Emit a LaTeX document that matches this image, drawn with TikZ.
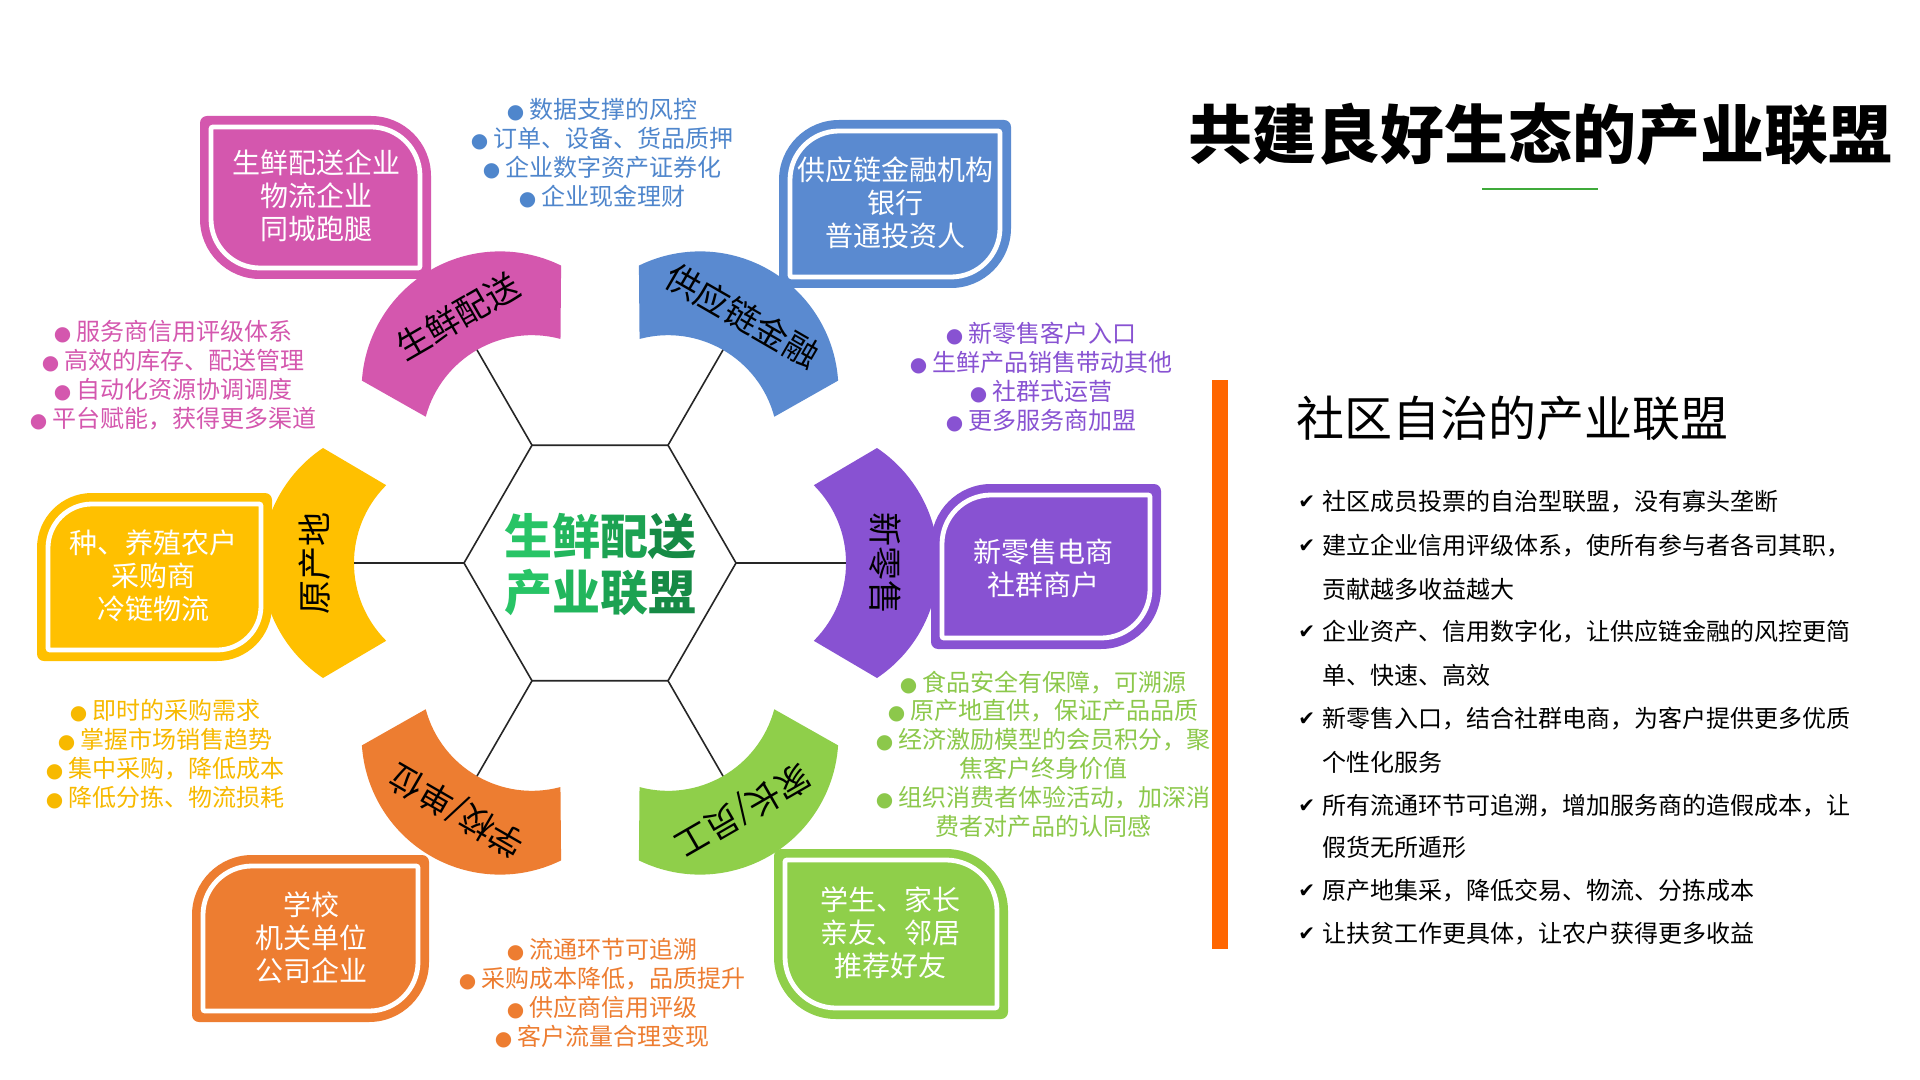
\documentclass[tikz,border=0pt]{standalone}
\usepackage{fontspec}
\setmainfont{Noto Sans CJK SC}
\newfontfamily\dejavu{DejaVu Sans}
\definecolor{cpink}{HTML}{D457AE}
\definecolor{cblue}{HTML}{5A8AD0}
\definecolor{cyellow}{HTML}{FFC000}
\definecolor{cpurple}{HTML}{8852D2}
\definecolor{corange}{HTML}{ED7D31}
\definecolor{cgreen}{HTML}{8FCF4A}
\definecolor{cbar}{HTML}{FF6600}
\definecolor{gA}{HTML}{28C466}
\definecolor{gB}{HTML}{22B65D}
\definecolor{gC}{HTML}{1CA252}
\definecolor{gD}{HTML}{168A45}
\definecolor{cline}{HTML}{3FAA3A}
\definecolor{lblue}{HTML}{4F86CC}
\definecolor{lyellow}{HTML}{F7B900}
\definecolor{lgreen}{HTML}{8CC84B}
% rounded top-left and bottom-right corners
\newcommand\leafA[6]{({#1+#5},{-#2}) -- ({#3-#6},{-#2}) arc[start angle=90,end angle=0,radius=#6] -- ({#3},{-#4+#5}) arc[start angle=0,end angle=-90,radius=#5] -- ({#1+#6},{-#4}) arc[start angle=-90,end angle=-180,radius=#6] -- ({#1},{-#2-#5}) arc[start angle=180,end angle=90,radius=#5] -- cycle}
% rounded top-right and bottom-left corners
\newcommand\leafB[6]{({#1+#6},{-#2}) -- ({#3-#5},{-#2}) arc[start angle=90,end angle=0,radius=#5] -- ({#3},{-#4+#6}) arc[start angle=0,end angle=-90,radius=#6] -- ({#1+#5},{-#4}) arc[start angle=-90,end angle=-180,radius=#5] -- ({#1},{-#2-#6}) arc[start angle=180,end angle=90,radius=#6] -- cycle}
\newcommand\bandshape{(-213.8,77.8) arc[start angle=135,end angle=225,radius=110] -- (-277,-115) arc[start angle=236.2,end angle=123.8,radius=138.4] -- cycle}
\newcommand\bul{{\dejavu\fontsize{10pt}{10pt}\selectfont ●}\hspace{2.5pt}}
\begin{document}
\begin{tikzpicture}[x=0.5pt,y=0.5pt,
  boxtext/.style={text=white, align=center, font=\fontsize{14pt}{16.5pt}\selectfont, inner sep=0pt},
  bandtext/.style={text=black, font=\fontsize{17pt}{19pt}\selectfont, inner sep=0pt},
  listtext/.style={align=center, font=\fontsize{12pt}{14.4pt}\selectfont, inner sep=0pt},
  itemtext/.style={anchor=west, text=black, font=\fontsize{12pt}{14pt}\selectfont, inner sep=0pt},
  chk/.style={anchor=west, text=black, font=\dejavu\fontsize{10pt}{12pt}\selectfont, inner sep=0pt},
  hexline/.style={draw=black!85, line width=0.8pt},
  innerline/.style={draw=white, line width=2.4pt}]
\path[use as bounding box, fill=white] (0,0) rectangle (1920,-1080);

% ---- bands ----
\begin{scope}[shift={(600,-563)}]
  \begin{scope}[rotate=0]\fill[cyellow] \bandshape;\end{scope}
  \begin{scope}[rotate=-60]\fill[cpink] \bandshape;\end{scope}
  \begin{scope}[rotate=-120]\fill[cblue] \bandshape;\end{scope}
  \begin{scope}[rotate=180]\fill[cpurple] \bandshape;\end{scope}
  \begin{scope}[rotate=120]\fill[cgreen] \bandshape;\end{scope}
  \begin{scope}[rotate=60]\fill[corange] \bandshape;\end{scope}
  % hexagon and spokes
  \foreach \a in {0,60,...,300} {
    \coordinate (hv\a) at (\a:136);
    \coordinate (sp\a) at (\a:246);
  }
  \draw[hexline] (hv0) -- (hv60) -- (hv120) -- (hv180) -- (hv240) -- (hv300) -- cycle;
  \foreach \a in {0,60,...,300} { \draw[hexline] (hv\a) -- (sp\a); }
  % band labels
  \node[bandtext, rotate=90] (byellow) at (180:285) {原产地};
  \node[bandtext, rotate=30] (bpink) at (120:285) {生鲜配送};
  \node[bandtext, rotate=-30] (bblue) at (60:285) {供应链金融};
  \node[bandtext, rotate=-90] (bpurple) at (0:285) {新零售};
  \node[bandtext, rotate=-150] (bgreen) at (300:285) {家长/员工};
  \node[bandtext, rotate=150] (borange) at (240:285) {学校/单位};
\end{scope}

% ---- boxes ----
\fill[cpink] \leafB{200}{116}{431}{279}{60}{7};
\draw[innerline] \leafB{211}{127}{420}{268}{49}{2};
\node[boxtext] (tpink) at (316,-196) {生鲜配送企业\\物流企业\\同城跑腿};

\fill[cblue] \leafA{779}{120}{1011}{288}{60}{7};
\draw[innerline] \leafA{790}{131}{1000}{277}{49}{2};
\node[boxtext] (tblue) at (895,-203) {供应链金融机构\\银行\\普通投资人};

\fill[cyellow] \leafA{37}{493}{272}{661}{55}{7};
\draw[innerline] \leafA{48}{504}{261}{650}{44}{2};
\node[boxtext] (tyellow) at (153,-576) {种、养殖农户\\采购商\\冷链物流};

\fill[cpurple] \leafA{931}{484}{1161}{649}{60}{7};
\draw[innerline] \leafA{942}{495}{1150}{638}{49}{2};
\node[boxtext] (tpurple) at (1043,-568) {新零售电商\\社群商户};

\fill[corange] \leafA{192}{855}{429}{1022}{60}{7};
\draw[innerline] \leafA{203}{866}{418}{1011}{49}{2};
\node[boxtext] (torange) at (311,-938) {学校\\机关单位\\公司企业};

\fill[cgreen] \leafB{774}{849}{1008}{1019}{62}{7};
\draw[innerline] \leafB{785}{860}{997}{1008}{51}{2};
\node[boxtext] (tgreen) at (890,-933) {学生、家长\\亲友、邻居\\推荐好友};

% ---- bullet lists ----
\node[listtext, text=lblue] (lblue) at (602,-153) {\bul 数据支撑的风控\\\bul 订单、设备、货品质押\\\bul 企业数字资产证券化\\\bul 企业现金理财};
\node[listtext, text=cpink] (lpink) at (173,-375) {\bul 服务商信用评级体系\\\bul 高效的库存、配送管理\\\bul 自动化资源协调调度\\\bul 平台赋能，获得更多渠道};
\node[listtext, text=cpurple] (lpurple) at (1041,-377) {\bul 新零售客户入口\\\bul 生鲜产品销售带动其他\\\bul 社群式运营\\\bul 更多服务商加盟};
\node[listtext, text=lyellow] (lyellow) at (165,-754) {\bul 即时的采购需求\\\bul 掌握市场销售趋势\\\bul 集中采购，降低成本\\\bul 降低分拣、物流损耗};
\node[listtext, text=lgreen] (lgreen) at (1043,-754) {\bul 食品安全有保障，可溯源\\\bul 原产地直供，保证产品品质\\\bul 经济激励模型的会员积分，聚\\焦客户终身价值\\\bul 组织消费者体验活动，加深消\\费者对产品的认同感};
\node[listtext, text=corange] (lorange) at (602,-993) {\bul 流通环节可追溯\\\bul 采购成本降低，品质提升\\\bul 供应商信用评级\\\bul 客户流量合理变现};

% ---- center ----
\node[align=center, inner sep=0pt, font=\fontsize{24pt}{28pt}\selectfont\bfseries] (center) at (600,-565) {\textcolor{gA}{生}\textcolor{gB}{鲜}\textcolor{gC}{配}\textcolor{gD}{送}\\\textcolor{gA}{产}\textcolor{gB}{业}\textcolor{gC}{联}\textcolor{gD}{盟}};

% ---- right panel ----
\node[inner sep=0pt, text=black, font=\fontsize{32pt}{36pt}\selectfont\bfseries] (title) at (1540,-134) {共建良好生态的产业联盟};
\coordinate (ulA) at (1482,-189);
\coordinate (ulB) at (1598,-189);
\draw[cline, line width=1.2pt] (ulA) -- (ulB);
\fill[cbar] (1212,-380) rectangle (1228,-949);
\node[anchor=west, inner sep=0pt, text=black, font=\fontsize{24pt}{28pt}\selectfont] (sub) at (1296,-418) {社区自治的产业联盟};

\node[chk] (c1) at (1298,-502) {✔};
\node[itemtext] (i1) at (1322,-502) {社区成员投票的自治型联盟，没有寡头垄断};
\node[chk] (c2) at (1298,-546) {✔};
\node[itemtext] (i2) at (1322,-546) {建立企业信用评级体系，使所有参与者各司其职，};
\node[itemtext] (i2b) at (1322,-589) {贡献越多收益越大};
\node[chk] (c3) at (1298,-632) {✔};
\node[itemtext] (i3) at (1322,-632) {企业资产、信用数字化，让供应链金融的风控更简};
\node[itemtext] (i3b) at (1322,-675) {单、快速、高效};
\node[chk] (c4) at (1298,-719) {✔};
\node[itemtext] (i4) at (1322,-719) {新零售入口，结合社群电商，为客户提供更多优质};
\node[itemtext] (i4b) at (1322,-762) {个性化服务};
\node[chk] (c5) at (1298,-806) {✔};
\node[itemtext] (i5) at (1322,-806) {所有流通环节可追溯，增加服务商的造假成本，让};
\node[itemtext] (i5b) at (1322,-847) {假货无所遁形};
\node[chk] (c6) at (1298,-891) {✔};
\node[itemtext] (i6) at (1322,-891) {原产地集采，降低交易、物流、分拣成本};
\node[chk] (c7) at (1298,-934) {✔};
\node[itemtext] (i7) at (1322,-934) {让扶贫工作更具体，让农户获得更多收益};
\end{tikzpicture}
\end{document}
